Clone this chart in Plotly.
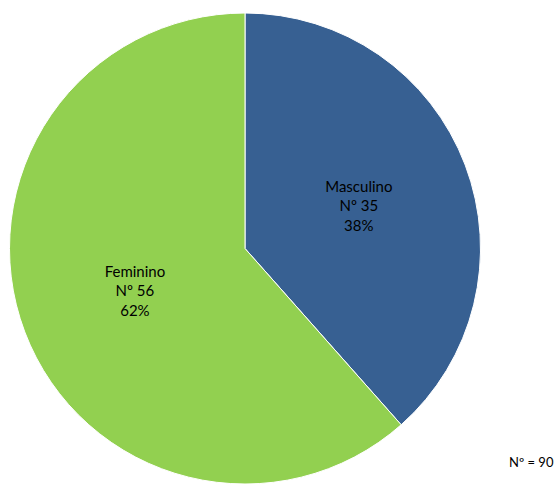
import plotly.graph_objects as go

labels = ["Masculino", "Feminino"]
values = [35, 56]
colors = ["#376092", "#92D050"]
total_label = "Nº = 90"

fig = go.Figure(go.Pie(
    labels=labels,
    values=values,
    sort=False,
    direction="clockwise",
    rotation=0,
    marker=dict(colors=colors, line=dict(color="white", width=1)),
    texttemplate="%{label}<br>Nº %{value}<br>%{percent:.0%}",
    textposition="inside",
    insidetextorientation="horizontal",
    textfont=dict(family="Lato", size=15, color="black"),
    hoverinfo="label+value+percent",
    domain=dict(x=[8/559, 482/559], y=[0, 1 - 13/484]),
    showlegend=False,
))

fig.add_annotation(
    text=total_label, x=556/559, y=1 - 462/484, xref="paper", yref="paper",
    xanchor="right", yanchor="middle", showarrow=False,
    font=dict(family="Lato", size=13, color="black"),
)

fig.update_layout(
    width=559, height=484,
    margin=dict(l=0, r=0, t=0, b=0),
    paper_bgcolor="white", plot_bgcolor="white",
)

fig.write_html("out.html", config={"displayModeBar": False},
               post_script="document.body.style.margin='0';")
